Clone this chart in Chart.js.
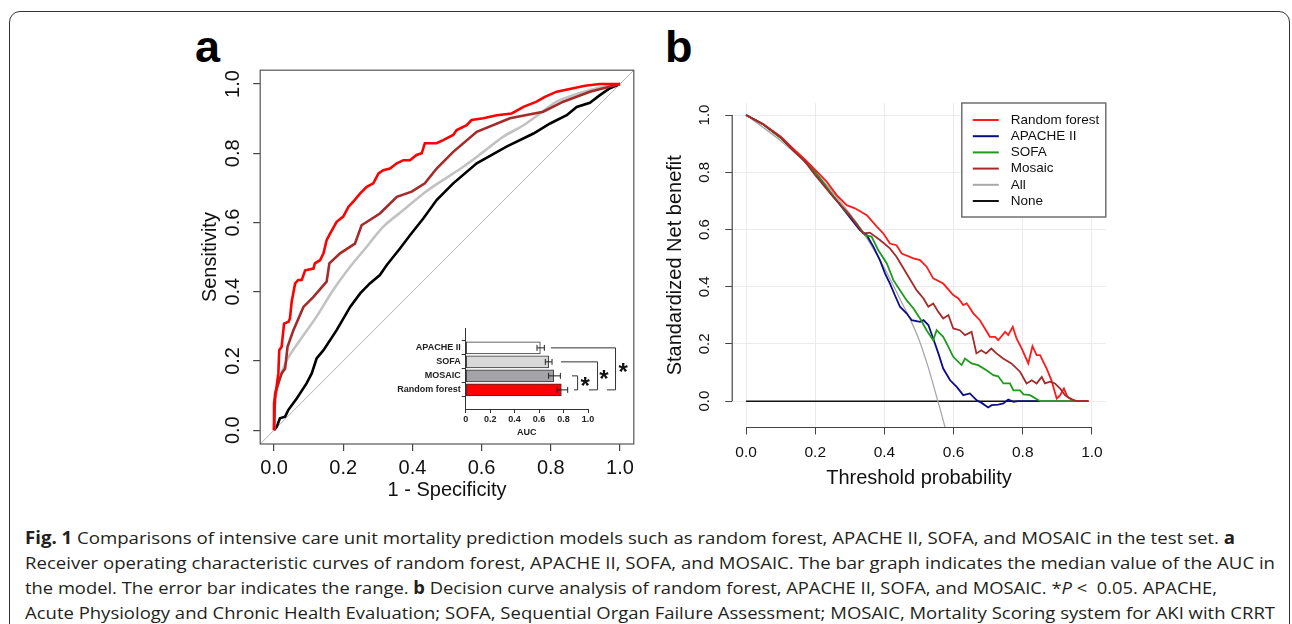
<!DOCTYPE html>
<html><head><meta charset="utf-8">
<script src="https://cdn.jsdelivr.net/npm/chart.js@4.4.1/dist/chart.umd.min.js"></script>
<style>
html,body{margin:0;padding:0;background:#fff;width:1292px;height:624px;overflow:hidden;position:relative;font-family:"Liberation Sans",Arial,sans-serif;}
#frame{position:absolute;left:9px;top:11px;width:1281px;height:660px;border:1.5px solid #333;border-radius:11px;box-sizing:border-box;}
.panel{position:absolute;font-weight:bold;font-size:45px;line-height:45px;color:#000;font-family:"Liberation Sans",Arial,sans-serif;}
canvas{position:absolute;}
.cap{position:absolute;left:25px;white-space:nowrap;font-family:"Open Sans",sans-serif;font-size:17px;color:#231f20;transform-origin:0 50%;line-height:20px;}
</style></head>
<body>
<div id="frame"></div>
<div class="panel" style="left:195px;top:24px;">a</div>
<div class="panel" style="left:665px;top:24px;">b</div>
<canvas id="cA" width="470" height="450" style="left:180px;top:60px;"></canvas>
<canvas id="cI" width="250" height="125" style="left:395px;top:320px;"></canvas>
<canvas id="cB" width="470" height="410" style="left:650px;top:90px;"></canvas>
<div class="cap" data-w="1210" style="top:528px;"><b>Fig. 1</b> Comparisons of intensive care unit mortality prediction models such as random forest, APACHE II, SOFA, and MOSAIC in the test set. <b>a</b></div>
<div class="cap" data-w="1250" style="top:553px;">Receiver operating characteristic curves of random forest, APACHE II, SOFA, and MOSAIC. The bar graph indicates the median value of the AUC in</div>
<div class="cap" data-w="1192" style="top:578px;">the model. The error bar indicates the range. <b>b</b> Decision curve analysis of random forest, APACHE II, SOFA, and MOSAIC. *<i>P</i> &lt;&nbsp; 0.05. APACHE,</div>
<div class="cap" data-w="1250" style="top:603px;">Acute Physiology and Chronic Health Evaluation; SOFA, Sequential Organ Failure Assessment; MOSAIC, Mortality Scoring system for AKI with CRRT</div>
<script>
// ---------------- DATA ----------------
const unitTicks = [0, 0.2, 0.4, 0.6, 0.8, 1.0];

// Panel a: ROC curves, [1 - specificity, sensitivity]
const rocRandomForest = [[0,0],[0,0.077],[0.006,0.116],[0.0125,0.164],[0.015,0.231],[0.022,0.241],[0.029,0.308],[0.042,0.313],[0.046,0.323],[0.051,0.371],[0.061,0.424],[0.07,0.434],[0.08,0.434],[0.09,0.462],[0.114,0.467],[0.118,0.482],[0.133,0.491],[0.143,0.511],[0.152,0.549],[0.162,0.568],[0.181,0.602],[0.2,0.617],[0.215,0.645],[0.229,0.66],[0.249,0.684],[0.268,0.703],[0.287,0.713],[0.302,0.742],[0.316,0.751],[0.335,0.756],[0.355,0.771],[0.374,0.78],[0.393,0.78],[0.412,0.795],[0.427,0.8],[0.436,0.829],[0.47,0.829],[0.489,0.838],[0.518,0.853],[0.528,0.867],[0.557,0.881],[0.571,0.896],[0.605,0.901],[0.644,0.91],[0.687,0.915],[0.721,0.934],[0.759,0.949],[0.783,0.963],[0.817,0.978],[0.865,0.988],[0.899,0.995],[0.942,1],[1,1]];
const rocMosaic = [[0,0],[0.003,0.106],[0.0125,0.135],[0.022,0.164],[0.032,0.178],[0.039,0.241],[0.056,0.289],[0.085,0.356],[0.114,0.385],[0.152,0.429],[0.16,0.482],[0.191,0.511],[0.234,0.539],[0.253,0.592],[0.306,0.626],[0.355,0.674],[0.398,0.689],[0.436,0.713],[0.47,0.756],[0.518,0.804],[0.586,0.862],[0.682,0.901],[0.778,0.92],[0.836,0.949],[0.913,0.978],[1,1]];
const rocSofa = [[0,0],[0.003,0.077],[0.0125,0.135],[0.037,0.202],[0.075,0.26],[0.123,0.328],[0.171,0.405],[0.22,0.472],[0.268,0.53],[0.316,0.588],[0.374,0.636],[0.432,0.684],[0.489,0.723],[0.547,0.761],[0.605,0.804],[0.663,0.848],[0.721,0.881],[0.769,0.915],[0.817,0.949],[0.865,0.968],[0.933,0.988],[1,1]];
const rocApache = [[0,0],[0.008,0.01],[0.017,0.034],[0.032,0.039],[0.041,0.058],[0.066,0.092],[0.094,0.135],[0.109,0.164],[0.123,0.207],[0.143,0.231],[0.181,0.289],[0.22,0.356],[0.249,0.395],[0.277,0.424],[0.306,0.448],[0.326,0.477],[0.364,0.525],[0.393,0.563],[0.432,0.612],[0.47,0.665],[0.518,0.713],[0.586,0.771],[0.672,0.819],[0.75,0.857],[0.798,0.886],[0.846,0.91],[0.875,0.934],[0.913,0.946],[0.942,0.968],[0.971,0.988],[1,1]];
const rocChance = [[-0.04,-0.04],[1.04,1.04]];

// Panel a inset: AUC bar graph
const aucModels = ['APACHE II', 'SOFA', 'MOSAIC', 'Random forest'];
const aucMedian = [0.61, 0.678, 0.719, 0.782];
const aucLow    = [0.583, 0.651, 0.678, 0.747];
const aucHigh   = [0.643, 0.706, 0.774, 0.834];
const aucSignificant = [[0, 3], [1, 3], [2, 3]];   // pairs compared with *P < 0.05

// Panel b: decision curves, [threshold probability, standardized net benefit]
const dcaRandomForest = [[0,1],[0.05,0.968],[0.1,0.925],[0.137,0.882],[0.17,0.845],[0.2,0.808],[0.233,0.767],[0.262,0.72],[0.291,0.685],[0.315,0.674],[0.349,0.65],[0.378,0.61],[0.397,0.586],[0.416,0.551],[0.435,0.545],[0.45,0.516],[0.484,0.499],[0.503,0.493],[0.522,0.47],[0.541,0.429],[0.57,0.411],[0.599,0.371],[0.614,0.359],[0.628,0.336],[0.638,0.342],[0.657,0.307],[0.676,0.283],[0.705,0.225],[0.72,0.225],[0.729,0.213],[0.749,0.242],[0.758,0.231],[0.771,0.26],[0.782,0.219],[0.797,0.184],[0.816,0.132],[0.828,0.192],[0.84,0.161],[0.85,0.161],[0.869,0.114],[0.883,0.073],[0.898,0.009],[0.908,0.021],[0.919,0.044],[0.929,0.015],[0.946,0.003],[0.956,0],[0.99,0]];
const dcaApache = [[0,1],[0.05,0.967],[0.1,0.92],[0.15,0.863],[0.2,0.8],[0.243,0.73],[0.281,0.672],[0.329,0.598],[0.349,0.58],[0.368,0.54],[0.387,0.493],[0.402,0.446],[0.416,0.411],[0.43,0.371],[0.445,0.33],[0.464,0.307],[0.479,0.283],[0.503,0.277],[0.513,0.283],[0.527,0.266],[0.541,0.219],[0.556,0.167],[0.57,0.114],[0.59,0.073],[0.609,0.05],[0.628,0.021],[0.647,0.027],[0.667,0.003],[0.681,-0.006],[0.7,-0.022],[0.71,-0.014],[0.729,-0.012],[0.744,-0.008],[0.758,0.006],[0.773,-0.002],[0.787,0],[0.85,0]];
const dcaSofa = [[0,1],[0.05,0.967],[0.1,0.92],[0.15,0.863],[0.2,0.8],[0.243,0.732],[0.281,0.674],[0.32,0.621],[0.344,0.58],[0.363,0.575],[0.382,0.528],[0.407,0.481],[0.426,0.423],[0.445,0.388],[0.464,0.353],[0.484,0.324],[0.503,0.289],[0.522,0.248],[0.541,0.213],[0.551,0.248],[0.57,0.225],[0.585,0.19],[0.599,0.155],[0.623,0.126],[0.633,0.149],[0.652,0.132],[0.671,0.126],[0.695,0.108],[0.715,0.091],[0.729,0.087],[0.744,0.062],[0.763,0.062],[0.773,0.038],[0.792,0.038],[0.802,0.024],[0.821,0.021],[0.85,0],[0.956,0]];
const dcaMosaic = [[0,1],[0.05,0.968],[0.1,0.922],[0.137,0.876],[0.17,0.838],[0.2,0.79],[0.252,0.714],[0.3,0.65],[0.339,0.586],[0.358,0.589],[0.387,0.563],[0.416,0.534],[0.435,0.505],[0.464,0.446],[0.493,0.388],[0.513,0.359],[0.527,0.33],[0.541,0.341],[0.556,0.312],[0.57,0.289],[0.585,0.301],[0.599,0.254],[0.618,0.248],[0.633,0.231],[0.652,0.242],[0.666,0.167],[0.68,0.178],[0.694,0.167],[0.709,0.184],[0.724,0.167],[0.743,0.149],[0.767,0.132],[0.792,0.103],[0.811,0.062],[0.826,0.073],[0.84,0.062],[0.855,0.085],[0.864,0.062],[0.879,0.068],[0.893,0.062],[0.908,0.044],[0.922,0.021],[0.941,0.006],[0.956,0],[0.99,0]];
const dcaAll = [[0,1],[0.1,0.91],[0.2,0.8],[0.3,0.655],[0.35,0.568],[0.4,0.465],[0.45,0.345],[0.475,0.285],[0.5,0.215],[0.525,0.125],[0.55,0.02],[0.575,-0.09],[0.585,-0.14]];
const dcaNone = [[0,0],[0.99,0]];

// ---------------- STYLE / LAYOUT ----------------
const FONT = '"Liberation Sans", Arial, Helvetica, sans-serif';
Chart.defaults.font.family = FONT;
Chart.defaults.color = '#111';
const pts = arr => arr.map(([x, y]) => ({x, y}));
const setTicks = vals => s => { s.ticks = vals.map(v => ({value: v})); };

const boxPlugin = {
  id: 'box',
  afterDatasetsDraw(chart, args, o) {
    const {ctx, chartArea: a} = chart;
    ctx.save(); ctx.strokeStyle = o.color; ctx.lineWidth = o.width;
    ctx.strokeRect(a.left, a.top, a.right - a.left, a.bottom - a.top);
    ctx.restore();
  }
};
const rotYTicks = {
  id: 'rotYTicks',
  afterDraw(chart, args, o) {
    const s = chart.scales.y, ctx = chart.ctx;
    ctx.save(); ctx.font = o.size + 'px ' + FONT; ctx.fillStyle = o.color;
    ctx.textAlign = 'center'; ctx.textBaseline = 'middle';
    s.ticks.forEach(t => {
      ctx.save();
      ctx.translate(chart.chartArea.left - o.offset, s.getPixelForValue(t.value));
      ctx.rotate(-Math.PI / 2);
      ctx.fillText(t.value.toFixed(1), 0, 0);
      ctx.restore();
    });
    ctx.restore();
  }
};
const rAxes = {
  id: 'rAxes',
  afterDraw(chart, args, o) {
    const {ctx, chartArea: a, scales: {x, y}} = chart;
    ctx.save(); ctx.strokeStyle = o.color; ctx.lineWidth = o.width; ctx.beginPath();
    ctx.moveTo(x.getPixelForValue(unitTicks[0]), a.bottom); ctx.lineTo(x.getPixelForValue(unitTicks[unitTicks.length - 1]), a.bottom);
    ctx.moveTo(a.left, y.getPixelForValue(unitTicks[0])); ctx.lineTo(a.left, y.getPixelForValue(unitTicks[unitTicks.length - 1]));
    ctx.stroke(); ctx.restore();
  }
};
const boxLegend = {
  id: 'boxLegend',
  afterDraw(chart, args, o) {
    const {ctx, chartArea: a} = chart;
    const x0 = a.right - o.width, y0 = a.top;
    ctx.save();
    ctx.fillStyle = '#fff'; ctx.fillRect(x0, y0, o.width, o.height);
    ctx.strokeStyle = o.border; ctx.lineWidth = 1.4; ctx.strokeRect(x0, y0, o.width, o.height);
    ctx.font = o.size + 'px ' + FONT; ctx.textBaseline = 'middle'; ctx.textAlign = 'left';
    chart.data.datasets.forEach((d, i) => {
      const y = y0 + o.first + i * o.step;
      ctx.strokeStyle = d.borderColor; ctx.lineWidth = 2;
      ctx.beginPath(); ctx.moveTo(x0 + o.line0, y); ctx.lineTo(x0 + o.line1, y); ctx.stroke();
      ctx.fillStyle = '#111'; ctx.fillText(d.label, x0 + o.text, y);
    });
    ctx.restore();
  }
};
const errorBars = {
  id: 'errorBars',
  afterDatasetsDraw(chart, args, o) {
    const {ctx, scales: {x, y}} = chart;
    ctx.save(); ctx.strokeStyle = o.color; ctx.lineWidth = 1;
    aucModels.forEach((m, i) => {
      const py = y.getPixelForValue(i), a = x.getPixelForValue(aucLow[i]), b = x.getPixelForValue(aucHigh[i]);
      ctx.beginPath();
      ctx.moveTo(a, py); ctx.lineTo(b, py);
      ctx.moveTo(a, py - o.cap); ctx.lineTo(a, py + o.cap);
      ctx.moveTo(b, py - o.cap); ctx.lineTo(b, py + o.cap);
      ctx.stroke();
    });
    ctx.restore();
  }
};
const brackets = {
  id: 'brackets',
  afterDraw(chart, args, o) {
    const {ctx, scales: {x, y}} = chart;
    ctx.save(); ctx.strokeStyle = o.color; ctx.lineWidth = 1; ctx.fillStyle = '#111';
    ctx.font = 'bold ' + o.starSize + 'px ' + FONT; ctx.textAlign = 'center'; ctx.textBaseline = 'alphabetic';
    aucSignificant.forEach(([i, j], k) => {
      const g = o.geom[k];
      const y1 = y.getPixelForValue(i), y2 = y.getPixelForValue(j);
      const xs = x.getPixelForValue(g[0]), xm = x.getPixelForValue(g[1]), xe = x.getPixelForValue(g[2]);
      ctx.beginPath(); ctx.moveTo(xs, y1); ctx.lineTo(xm, y1); ctx.lineTo(xm, y2); ctx.lineTo(xe, y2); ctx.stroke();
      ctx.fillText('*', x.getPixelForValue(g[3]), (y1 + y2) / 2 - 3 + o.starSize * 0.57);
    });
    ctx.restore();
  }
};

// ---------------- PANEL A: ROC ----------------
new Chart(document.getElementById('cA'), {
  type: 'line',
  data: { datasets: [
    {label: 'Random forest', data: pts(rocRandomForest), borderColor: '#ff0000', borderWidth: 2.6, order: 0},
    {label: 'MOSAIC', data: pts(rocMosaic), borderColor: '#a52a2a', borderWidth: 2.6, order: 1},
    {label: 'SOFA', data: pts(rocSofa), borderColor: '#c2c2c2', borderWidth: 2.6, order: 2, tension: 0.3},
    {label: 'APACHE II', data: pts(rocApache), borderColor: '#000000', borderWidth: 2.6, order: 3},
    {label: 'Chance', data: pts(rocChance), borderColor: '#b4b4b4', borderWidth: 1, order: 4}
  ]},
  options: {
    responsive: false, animation: false,
    elements: {point: {radius: 0}, line: {tension: 0, fill: false}},
    layout: {padding: {left: 0, top: 10.2, right: 16.2, bottom: 0}},
    plugins: {legend: {display: false}, tooltip: {enabled: false},
      box: {color: '#555', width: 1.2}, rotYTicks: {size: 20, color: '#111', offset: 27}},
    scales: {
      x: {type: 'linear', min: -0.04, max: 1.04, afterBuildTicks: setTicks(unitTicks), afterFit: s => { s.height = 66; },
        grid: {drawOnChartArea: false, drawTicks: true, tickLength: 7, tickColor: '#444', lineWidth: 1.2},
        border: {display: false},
        ticks: {font: {size: 20}, color: '#111', padding: 5, maxRotation: 0, callback: v => v.toFixed(1)},
        title: {display: true, text: '1 - Specificity', font: {size: 20}, color: '#111', padding: {top: 0, bottom: 8}}},
      y: {type: 'linear', min: -0.04, max: 1.04, afterBuildTicks: setTicks(unitTicks), afterFit: s => { s.width = 80.2; },
        grid: {drawOnChartArea: false, drawTicks: true, tickLength: 7, tickColor: '#444', lineWidth: 1.2},
        border: {display: false},
        ticks: {display: false},
        title: {display: true, text: 'Sensitivity', font: {size: 20}, color: '#111', padding: {top: 18, bottom: 0}}}
    }
  },
  plugins: [boxPlugin, rotYTicks]
});

// ---------------- PANEL A INSET: AUC bars ----------------
new Chart(document.getElementById('cI'), {
  type: 'bar',
  data: { datasets: [{
    label: 'AUC',
    data: aucModels.map((m, i) => ({x: aucMedian[i], y: i})),
    backgroundColor: ['#ffffff', '#d9d9d9', '#a3a3a8', '#ff0000'],
    borderColor: '#333', borderWidth: 1, borderSkipped: false, barThickness: 12
  }]},
  options: {
    indexAxis: 'y', responsive: false, animation: false,
    layout: {padding: {left: 0, top: 8, right: 57, bottom: 0}},
    plugins: {legend: {display: false}, tooltip: {enabled: false},
      errorBars: {color: '#222', cap: 3},
      brackets: {color: '#333', starSize: 24, geom: [[0.697, 1.225, 1.155, 1.287], [0.779, 1.078, 1.008, 1.131], [0.869, 0.915, 0.885, 0.976]]}},
    scales: {
      x: {type: 'linear', min: 0, max: 1, afterBuildTicks: setTicks(unitTicks), afterFit: s => { s.height = 36; },
        grid: {drawOnChartArea: false, drawTicks: true, tickLength: 4, tickColor: '#333'},
        border: {display: true, color: '#333', width: 1},
        ticks: {font: {size: 9, weight: 'bold'}, color: '#222', padding: 1, maxRotation: 0, callback: v => v === 0 ? '0' : v.toFixed(1)},
        title: {display: true, text: 'AUC', font: {size: 9, weight: 'bold'}, color: '#222', padding: {top: 0, bottom: 7}}},
      y: {type: 'linear', reverse: true, min: -0.696, max: 3.643, afterBuildTicks: setTicks([0, 1, 2, 3]), afterFit: s => { s.width = 70.7; },
        grid: {drawOnChartArea: false, drawTicks: true, tickLength: 4, tickColor: '#333'},
        border: {display: true, color: '#333', width: 1},
        ticks: {font: {size: 9, weight: 'bold'}, color: '#222', padding: 1, callback: v => aucModels[v]}}
    }
  },
  plugins: [errorBars, brackets]
});

// ---------------- PANEL B: DCA ----------------
new Chart(document.getElementById('cB'), {
  type: 'line',
  data: { datasets: [
    {label: 'Random forest', data: pts(dcaRandomForest), borderColor: '#ff1a1a', borderWidth: 1.8, order: 2},
    {label: 'APACHE II', data: pts(dcaApache), borderColor: '#0c0c8a', borderWidth: 1.8, order: 4},
    {label: 'SOFA', data: pts(dcaSofa), borderColor: '#1f9a1f', borderWidth: 1.8, order: 3},
    {label: 'Mosaic', data: pts(dcaMosaic), borderColor: '#a52a2a', borderWidth: 1.8, order: 1},
    {label: 'All', data: pts(dcaAll), borderColor: '#a8a8a8', borderWidth: 1.3, order: 5, cubicInterpolationMode: 'monotone'},
    {label: 'None', data: pts(dcaNone), borderColor: '#111111', borderWidth: 1.5, order: 6}
  ]},
  options: {
    responsive: false, animation: false,
    elements: {point: {radius: 0}, line: {tension: 0, fill: false}},
    layout: {padding: {left: 0, top: 13, right: 14.2, bottom: 0}},
    plugins: {legend: {display: false}, tooltip: {enabled: false},
      rotYTicks: {size: 15, color: '#111', offset: 27},
      rAxes: {color: '#444', width: 1.2},
      boxLegend: {width: 144, height: 114, first: 17, step: 16.2, line0: 11, line1: 37, text: 49, size: 13.5, border: '#666'}},
    scales: {
      x: {type: 'linear', min: -0.04, max: 1.04, afterBuildTicks: setTicks(unitTicks), afterFit: s => { s.height = 72.5; },
        grid: {color: '#ebebeb', lineWidth: 1, drawTicks: true, tickLength: 7, tickColor: '#444'},
        border: {display: false},
        ticks: {font: {size: 15.5}, color: '#111', padding: 9, maxRotation: 0, callback: v => v.toFixed(1)},
        title: {display: true, text: 'Threshold probability', font: {size: 20}, color: '#111', padding: {top: 0, bottom: 10}}},
      y: {type: 'linear', min: -0.092, max: 1.042, afterBuildTicks: setTicks(unitTicks), afterFit: s => { s.width = 82.2; },
        grid: {color: '#ebebeb', lineWidth: 1, drawTicks: true, tickLength: 7, tickColor: '#444'},
        border: {display: false},
        ticks: {display: false},
        title: {display: true, text: 'Standardized Net benefit', font: {size: 20}, color: '#111', padding: {top: 13, bottom: 0}}}
    }
  },
  plugins: [rotYTicks, rAxes, boxLegend]
});

// ---------------- caption fitting ----------------
function fitCaption() {
  document.querySelectorAll('.cap').forEach(el => {
    el.style.transform = 'none';
    const w = el.getBoundingClientRect().width;
    el.style.transform = 'scaleX(' + (parseFloat(el.dataset.w) / w) + ')';
  });
}
fitCaption();
if (document.fonts && document.fonts.ready) document.fonts.ready.then(fitCaption);
</script>
</body></html>
